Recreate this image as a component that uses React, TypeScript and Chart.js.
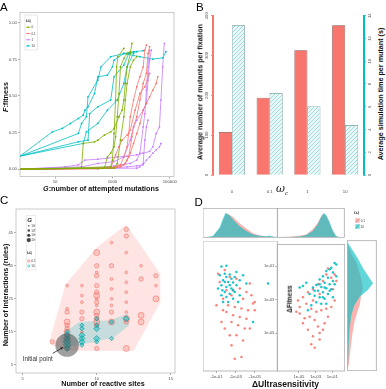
import React, { useEffect, useRef } from 'react';
import { Chart, registerables } from 'chart.js';

Chart.register(...registerables);

const RED = '#F8766D';
const OLIVE = '#7CAE00';
const TEAL = '#00BFC4';
const VIOLET = '#C77CFF';
const SANS = '"Liberation Sans", Arial, sans-serif';
const SERIF = '"DejaVu Serif", serif';

// ---------- A: fitness trajectories, [G attempted mutations, F fitness] ----------
type Pair = [number, number];
const omegaLevelsA = ['0', '0.1', '1', '10'];
const runsOmega0: Pair[][] = [
  [[0.6, 0], [84, 0.007], [96, 0.176], [238, 0.187], [309, 0.198], [525, 0.233], [870, 0.255], [1140, 0.278], [1690, 0.358], [2180, 0.403], [2500, 0.472], [2820, 0.585], [3240, 0.699], [4200, 0.79], [4780, 0.859]],
  [[0.6, 0], [525, 0.007], [670, 0.084], [870, 0.109], [1140, 0.153], [1290, 0.221], [1480, 0.358], [1690, 0.517], [1910, 0.699], [2500, 0.757], [3240, 0.79], [4200, 0.802]],
  [[0.6, 0], [870, 0.016], [1000, 0.062], [1140, 0.244], [1290, 0.472], [1400, 0.699], [1550, 0.768], [2500, 0.825]],
  [[0.6, 0], [1140, 0.007], [1480, 0.039], [1910, 0.198], [2500, 0.358], [2820, 0.472], [3240, 0.585], [4200, 0.699], [5450, 0.745], [7050, 0.768]],
];
const runsOmega01: Pair[][] = [
  [[0.6, 0], [309, 0.002], [1140, 0.016], [1910, 0.03], [2500, 0.084], [3240, 0.153], [3700, 0.244], [4200, 0.358], [5450, 0.472], [7050, 0.563], [9100, 0.631], [11800, 0.699], [13500, 0.813], [15300, 0.848]],
  [[0.6, 0], [670, 0.007], [1480, 0.016], [2500, 0.03], [3240, 0.062], [4200, 0.109], [5450, 0.176], [7050, 0.244], [9100, 0.312], [11800, 0.403], [15300, 0.449], [19800, 0.494], [25600, 0.54], [33600, 0.585], [38000, 0.631]],
  [[0.6, 0], [1140, 0.007], [1910, 0.016], [2820, 0.039], [3700, 0.084], [4780, 0.221], [5450, 0.289], [7050, 0.358], [9100, 0.472], [11800, 0.585], [15300, 0.654], [17400, 0.79], [19800, 0.836]],
  [[0.6, 0], [870, 0.007], [1290, 0.098], [1690, 0.153], [2180, 0.198], [3240, 0.233], [4200, 0.267], [6170, 0.403], [9100, 0.517], [13500, 0.563], [19800, 0.654]],
];
const runsOmega1: Pair[][] = [
  [[0.6, 0], [23, 0.016], [65, 0.03], [110, 0.062], [309, 0.068], [670, 0.075], [1480, 0.084], [3240, 0.089], [7050, 0.098], [11800, 0.109], [19800, 0.121], [25600, 0.153], [33600, 0.244], [43600, 0.289], [49000, 0.472], [56500, 0.699], [64400, 0.859]],
  [[0.6, 0], [84, 0.016], [309, 0.039], [1140, 0.052], [2500, 0.084], [4200, 0.198], [5450, 0.289], [7050, 0.335], [11800, 0.403], [15300, 0.449], [17400, 0.608], [19800, 0.745], [22700, 0.813]],
  [[0.6, 0], [182, 0.007], [670, 0.016], [1910, 0.03], [4200, 0.039], [7050, 0.062], [9100, 0.109], [11800, 0.289], [13500, 0.38], [15300, 0.54], [17400, 0.699], [19800, 0.813]],
  [[0.6, 0], [870, 0.007], [3240, 0.016], [7050, 0.023], [11800, 0.03], [15300, 0.062], [19800, 0.084], [25600, 0.109], [33600, 0.132], [43600, 0.153], [49000, 0.176]],
  [[0.6, 0], [7050, 0.007], [9100, 0.016], [11800, 0.039], [13500, 0.198], [15300, 0.289], [17400, 0.335]],
];
const runsOmega10: Pair[][] = [
  [[0.6, 0.089], [8.1, 0.255], [17.7, 0.278], [34, 0.312], [65, 0.346], [96, 0.369], [110, 0.403], [141, 0.426], [238, 0.517], [309, 0.631], [670, 0.642], [1000, 0.699], [1140, 0.745], [2500, 0.79], [9100, 0.768], [25600, 0.752], [56500, 0.76], [72900, 0.802]],
  [[0.6, 0.089], [65, 0.244], [84, 0.312], [124, 0.358], [141, 0.494], [309, 0.608], [400, 0.699], [870, 0.768], [2500, 0.79], [5450, 0.802], [11800, 0.809]],
  [[0.6, 0.089], [65, 0.187], [141, 0.198], [161, 0.38], [309, 0.426], [870, 0.472], [1140, 0.631], [2500, 0.711], [3700, 0.79], [7050, 0.802]],
  [[0.6, 0.089], [96, 0.176], [124, 0.255], [309, 0.312], [670, 0.403], [1480, 0.472], [2500, 0.585], [3240, 0.699], [5450, 0.79]],
];
const fitnessTicks = [0, 0.25, 0.5, 0.75, 1];
const mutationTicks = [10, 1000, 100000];

// ---------- B: cost per fixation ----------
const omegaCategories = ['0', '0.1', '1', '10'];
const mutantsPerFixation = [108, 194, 313, 376];
const secondsPerMutant = [13.15, 7.2, 6.05, 4.4];
const mutantTicks = [0, 100, 200, 300, 400];
const secondsTicks = [0, 2, 4, 6, 8, 10, 12, 14];

// ---------- C: network size, [reactive sites, interactions, log10 G] ----------
const networksOmega01: [number, number, number][] = [
  [7, 12, 2],
  [8, 29, 1], [8, 22, 1], [8, 21, 2], [8, 18, 3], [8, 17, 2], [8, 16, 2], [8, 15, 3], [8, 14, 2], [8, 13, 3], [8, 10, 2],
  [9, 29, 1], [9, 26, 1], [9, 24, 1], [9, 21, 2], [9, 19, 2], [9, 15, 1],
  [10, 39, 3], [10, 35, 2], [10, 33, 1], [10, 32, 2], [10, 29, 2], [10, 27, 2], [10, 26, 3], [10, 25, 1], [10, 24, 2], [10, 23, 1], [10, 21, 3], [10, 20, 2], [10, 19, 2], [10, 18, 3], [10, 17, 2], [10, 10, 2],
  [11, 42, 1], [11, 35, 2], [11, 31, 1], [11, 28, 1], [11, 25, 1], [11, 23, 1], [11, 21, 2], [11, 18, 3],
  [12, 46, 2], [12, 44, 2], [12, 39, 1], [12, 33, 1], [12, 30, 1], [12, 27, 1], [12, 24, 1], [12, 21, 1], [12, 19, 3], [12, 18, 2], [12, 10, 3],
  [13, 35, 1], [13, 31, 2], [13, 20, 3], [13, 18, 3],
  [14, 32, 2], [14, 29, 1], [14, 25, 3],
];
const networksOmega10: [number, number, number][] = [
  [8, 15, 2], [8, 14, 3], [8, 13, 3], [8, 12, 4], [8, 11, 4], [8, 10, 3],
  [9, 17, 2], [9, 16, 2], [9, 14, 3], [9, 13, 3], [9, 12, 3], [9, 11, 2],
  [10, 19, 2], [10, 17, 2], [10, 16, 3], [10, 13, 3], [10, 12, 2],
  [11, 18, 2], [11, 13, 2],
  [12, 19, 3],
];
const hullOmega01: Pair[] = [[6.8, 12], [7.9, 29.5], [10, 40.5], [12, 47.5], [14.3, 32.5], [14.3, 24], [12.5, 9.3], [8, 9.3], [7, 11], [6.8, 12]];
const hullOmega10: Pair[] = [[7.6, 14], [8.8, 18], [10.9, 18.5], [12.1, 20.5], [12.2, 17], [11.2, 13.5], [10, 12], [9, 11.3], [8, 10.3], [7.6, 12], [7.6, 14]];
const initialNetwork: Pair = [8, 11];
const gLevels = [1, 2, 3, 4];
const siteTicks = [5, 10, 15];
const ruleTicks = [5, 15, 25, 35, 45];

// ---------- D: [log10 |ΔUltrasensitivity|, log10 ΔFitness] ----------
const negUltraOmega10: Pair[] = [
  [-1.52, -1.17], [-2.04, -1.12], [-1.35, -1.68], [-1.87, -1.59], [-2.39, -1.64], [-2.91, -1.78], [-1.69, -1.98], [-2.22, -2.07], [-2.74, -2.11], [-3.43, -1.98], [-1.52, -2.27], [-2.04, -2.37], [-2.57, -2.46], [-3.09, -2.27], [-1.87, -2.66], [-2.39, -2.76], [-2.91, -2.66], [-3.78, -1.68], [-2.04, -2.95], [-2.74, -3.05], [-1.52, -2.85], [-3.43, -2.85], [-4.82, -4.41], [-2.22, -3.24], [-3.26, -3.24], [-6.39, -2.17], [-4.13, -2.17], [-1.69, -3.24], [-1.17, -2.46], [-2.57, -1.88], [-1.87, -2.07], [-2.39, -2.27], [-2.74, -2.56], [-3.09, -1.49], [-2.04, -1.78], [-1.62, -2.56],
];
const negUltraOmega01: Pair[] = [
  [-1.17, -1.59], [-1.87, -1.37], [-2.39, -1.78], [-3.09, -1.88], [-4.48, -2.17], [-1.35, -2.07], [-2.04, -2.56], [-2.74, -2.56], [-3.43, -2.46], [-4.13, -2.66], [-4.65, -2.85], [-5.0, -3.24], [-1.69, -3.05], [-2.22, -3.44], [-2.91, -3.54], [-3.61, -3.63], [-4.3, -3.73], [-5.0, -3.73], [-2.04, -3.83], [-2.74, -4.02], [-3.43, -4.12], [-4.13, -4.22], [-2.57, -4.41], [-3.26, -4.61], [-3.95, -4.8], [-1.87, -4.8], [-2.39, -5.19], [-3.09, -5.19], [-3.78, -5.49], [-2.57, -5.78], [-3.61, -6.46], [-2.91, -6.56], [-4.82, -3.34], [-1.69, -3.73], [-4.48, -4.8], [-1.0, -3.44], [-1.52, -4.41], [-3.78, -3.05], [-2.57, -2.85],
];
const posUltraOmega10: Pair[] = [
  [-0.72, -0.79], [-0.52, -0.89], [-1.12, -1.08], [-1.72, -1.27], [-0.92, -1.37], [-0.52, -1.59], [-2.12, -1.59], [-1.52, -1.68], [-2.52, -1.78], [-0.92, -1.88], [-1.92, -1.98], [-1.32, -2.07], [-2.92, -2.11], [-2.32, -2.23], [-1.72, -2.31], [-1.12, -2.37], [-3.32, -2.27], [-2.72, -2.46], [-2.12, -2.56], [-1.52, -2.66], [-3.72, -2.66], [-3.12, -2.76], [-2.52, -2.85], [-1.92, -2.95], [-2.92, -3.15], [-2.32, -3.24], [-3.52, -3.34], [-4.52, -2.17], [-4.92, -2.27], [-4.12, -1.98], [-0.92, -2.85], [-1.72, -3.24], [-3.92, -3.63], [-1.32, -1.17], [-0.72, -2.07], [-1.92, -2.27], [-1.32, -2.46], [-2.52, -2.07], [-3.12, -2.46], [-2.12, -2.85],
];
const posUltraOmega01: Pair[] = [
  [-1.52, -1.12], [-1.72, -1.49], [-1.12, -1.68], [-2.12, -1.88], [-2.72, -2.07], [-3.32, -2.37], [-3.92, -2.56], [-4.52, -2.85], [-4.92, -3.44], [-4.12, -3.24], [-3.52, -3.54], [-2.92, -3.73], [-2.32, -3.63], [-1.72, -3.54], [-1.12, -3.44], [-0.72, -3.05], [-3.72, -4.02], [-3.12, -4.22], [-4.32, -4.12], [-4.92, -3.83], [-5.32, -3.73], [-2.72, -4.61], [-2.12, -4.8], [-3.92, -4.8], [-3.32, -5.19], [-2.52, -5.0], [-3.52, -5.68], [-3.12, -5.88], [-1.92, -4.41], [-0.72, -1.49], [-0.52, -1.88], [-5.12, -3.05], [-3.32, -3.05], [-1.52, -4.02], [-2.52, -5.39], [-4.52, -4.41], [-0.92, -2.37], [-2.52, -2.66],
];
// marginal densities: [log10 value, scaled density]
const densNegUltraOmega10: Pair[] = [[0.1, 0], [-0.65, 0.05], [-1.35, 0.35], [-1.69, 0.65], [-1.94, 0.85], [-2.39, 0.75], [-2.91, 0.55], [-3.43, 0.38], [-4.13, 0.22], [-4.82, 0.1], [-5.52, 0.05], [-6.2, 0.04], [-6.56, 0.06], [-7.0, 0.02], [-7.3, 0]];
const densNegUltraOmega01: Pair[] = [[0.1, 0], [-0.65, 0.03], [-1.35, 0.3], [-1.6, 0.5], [-1.94, 0.78], [-2.15, 0.82], [-2.74, 0.7], [-3.43, 0.48], [-4.13, 0.3], [-4.82, 0.14], [-5.52, 0.06], [-6.2, 0.03], [-7.0, 0.01], [-7.3, 0]];
const densPosUltraOmega10: Pair[] = [[-7.5, 0], [-6.12, 0.01], [-4.92, 0.03], [-4.12, 0.08], [-3.32, 0.22], [-2.72, 0.45], [-2.32, 0.7], [-2.0, 0.84], [-1.72, 0.78], [-1.32, 0.55], [-0.92, 0.25], [-0.52, 0.05], [-0.12, 0]];
const densPosUltraOmega01: Pair[] = [[-7.5, 0], [-6.12, 0.02], [-4.92, 0.05], [-4.12, 0.1], [-3.32, 0.28], [-2.72, 0.5], [-2.32, 0.72], [-2.1, 0.8], [-1.72, 0.74], [-1.32, 0.5], [-0.92, 0.22], [-0.52, 0.04], [-0.12, 0]];
const densFitnessOmega10: Pair[] = [[0.26, 0], [-0.51, 0.29], [-0.89, 0.42], [-1.27, 0.54], [-1.88, 0.77], [-2.17, 0.89], [-2.56, 0.71], [-2.95, 0.43], [-3.44, 0.25], [-4.02, 0.14], [-4.8, 0.08], [-5.78, 0.05], [-6.76, 0.03], [-7.15, 0]];
const densFitnessOmega01: Pair[] = [[0.2, 0], [-0.5, 0.15], [-0.89, 0.3], [-1.88, 0.48], [-2.46, 0.54], [-2.85, 0.48], [-3.44, 0.43], [-3.83, 0.35], [-4.41, 0.25], [-5.19, 0.17], [-6.17, 0.1], [-6.95, 0.05], [-7.2, 0]];
const negUltraTicks = [-1, -3, -5];
const posUltraTicks = [-5, -3, -1];
const fitnessExpTicks = [-1, -3, -5];

// ---------- helpers ----------
const baseOptions = (padding: any) => ({
  responsive: false,
  maintainAspectRatio: false,
  animation: false as const,
  devicePixelRatio: 1,
  events: [] as any[],
  layout: { padding, autoPadding: false },
  plugins: { legend: { display: false }, tooltip: { enabled: false } },
});

type AxisSpec = {
  type?: string; min: number; max: number; ticks: number[]; fmt: (v: number) => string;
  thickness: number; vertical: boolean; size?: number; reverse?: boolean; position?: string; padding?: number;
};
const tickAxis = (o: AxisSpec) => ({
  type: o.type ?? 'linear',
  position: o.position,
  min: o.min,
  max: o.max,
  reverse: !!o.reverse,
  afterBuildTicks: (s: any) => { s.ticks = o.ticks.map((v) => ({ value: v })); },
  afterFit: (s: any) => { if (o.vertical) s.width = o.thickness; else s.height = o.thickness; },
  ticks: {
    callback: (v: any) => o.fmt(Number(v)),
    font: { family: SANS, size: o.size ?? 4.5 },
    color: '#4d4d4d',
    padding: o.padding ?? 1,
    autoSkip: false,
    maxRotation: 0,
  },
  grid: { display: true, drawOnChartArea: false, drawTicks: true, tickLength: 2, color: '#777', lineWidth: 0.6 },
  border: { display: false },
});
const hiddenAxis = (min: number, max: number, reverse = false) => ({ type: 'linear', display: false, min, max, reverse });

const framePlugin = (color: string, width = 0.7) => ({
  id: 'frame',
  afterDatasetsDraw(chart: any) {
    const { ctx, chartArea: a } = chart;
    ctx.save();
    ctx.strokeStyle = color;
    ctx.lineWidth = width;
    ctx.strokeRect(a.left, a.top, a.right - a.left, a.bottom - a.top);
    ctx.restore();
  },
});

const toXY = (pts: Pair[]) => pts.map(([x, y]) => ({ x, y }));
const toYX = (pts: Pair[]) => pts.map(([y, x]) => ({ x, y }));
const radiusForG = (g: number) => 0.6 + 0.8 * g;
const expLabel = (v: number) => `1e-0${Math.abs(v)}`;

function hatchPattern(): CanvasPattern | string {
  const c = document.createElement('canvas');
  c.width = 4; c.height = 4;
  const g = c.getContext('2d');
  if (!g) return '#e6f7f7';
  g.fillStyle = '#eaf8f8';
  g.fillRect(0, 0, 4, 4);
  g.strokeStyle = '#86d5d7';
  g.lineWidth = 0.8;
  g.beginPath();
  g.moveTo(0, 4); g.lineTo(4, 0);
  g.moveTo(-1, 1); g.lineTo(1, -1);
  g.moveTo(3, 5); g.lineTo(5, 3);
  g.stroke();
  return g.createPattern(c, 'repeat') ?? '#e6f7f7';
}

function drawOmegaTitle(ctx: CanvasRenderingContext2D, x: number, y: number, sub: string) {
  ctx.fillStyle = '#222';
  ctx.font = `italic 6px ${SERIF}`;
  ctx.fillText('ω', x, y);
  ctx.font = `3px ${SANS}`;
  ctx.fillText(sub, x + 4.2, y + 1.5);
}

// ---------- text overlays ----------
const HText = ({ x, y, size = 7.2, bold = true, children }: any) => (
  <div style={{ position: 'absolute', left: x, top: y, transform: 'translate(-50%, -50%)', whiteSpace: 'nowrap', fontSize: size, lineHeight: 1, fontWeight: bold ? 'bold' : 'normal', color: '#111' }}>{children}</div>
);
const VText = ({ x, y, size = 7.2, children }: any) => (
  <div style={{ position: 'absolute', left: x, top: y, transform: 'translate(-50%, -50%) rotate(-90deg)', whiteSpace: 'nowrap', fontSize: size, lineHeight: 1, fontWeight: 'bold', color: '#111' }}>{children}</div>
);

export default function App() {
  const aRef = useRef<HTMLCanvasElement>(null);
  const bRef = useRef<HTMLCanvasElement>(null);
  const cRef = useRef<HTMLCanvasElement>(null);
  const dTopLRef = useRef<HTMLCanvasElement>(null);
  const dTopRRef = useRef<HTMLCanvasElement>(null);
  const dMainLRef = useRef<HTMLCanvasElement>(null);
  const dMainRRef = useRef<HTMLCanvasElement>(null);
  const dSideRef = useRef<HTMLCanvasElement>(null);

  useEffect(() => {
    const charts: Chart[] = [];
    const make = (el: HTMLCanvasElement | null, cfg: any) => { if (el) charts.push(new Chart(el, cfg)); };

    // ----- A -----
    const groupsA = [
      { runs: runsOmega0, color: OLIVE },
      { runs: runsOmega01, color: RED },
      { runs: runsOmega1, color: VIOLET },
      { runs: runsOmega10, color: TEAL },
    ];
    const legendA = {
      id: 'legendA',
      afterDraw(chart: any) {
        const ctx: CanvasRenderingContext2D = chart.ctx;
        ctx.save();
        ctx.strokeStyle = '#d0d0d0';
        ctx.lineWidth = 0.5;
        ctx.strokeRect(25, 15, 12.3, 35);
        drawOmegaTitle(ctx, 25.8, 21.5, 'r');
        omegaLevelsA.forEach((lab, i) => {
          const y = 27.3 + i * 6.2;
          const col = groupsA[i].color;
          ctx.strokeStyle = col; ctx.lineWidth = 0.7;
          ctx.beginPath(); ctx.moveTo(26, y); ctx.lineTo(30.5, y); ctx.stroke();
          ctx.fillStyle = col; ctx.beginPath(); ctx.arc(28.2, y, 0.8, 0, Math.PI * 2); ctx.fill();
          ctx.fillStyle = '#333'; ctx.font = `3px ${SANS}`;
          ctx.fillText(lab, 31.5, y + 1.1);
        });
        ctx.restore();
      },
    };
    make(aRef.current, {
      type: 'line',
      data: {
        datasets: groupsA.flatMap((g) => g.runs.map((run) => ({
          data: toXY(run),
          borderColor: g.color,
          backgroundColor: g.color,
          borderWidth: 0.8,
          pointRadius: 0.9,
          pointBorderWidth: 0,
          pointBackgroundColor: g.color,
          fill: false,
          tension: 0,
        }))),
      },
      options: {
        ...baseOptions({ top: 12.5, right: 1, left: 0, bottom: 0 }),
        scales: {
          x: tickAxis({ type: 'logarithmic', min: 0.6, max: 1.4e5, ticks: mutationTicks, fmt: (v) => String(v), thickness: 18.5, vertical: false, size: 4.3 }),
          y: tickAxis({ min: -0.05, max: 1.07, ticks: fitnessTicks, fmt: (v) => v.toFixed(2), thickness: 20, vertical: true, size: 4.3 }),
        },
      },
      plugins: [framePlugin('#b5b5b5'), legendA],
    });

    // ----- B -----
    const vTicks = (spec: AxisSpec, color: string) => {
      const ax: any = tickAxis(spec);
      ax.ticks = { ...ax.ticks, minRotation: 90, maxRotation: 90, crossAlign: 'center' };
      ax.border = { display: true, color, width: 2 };
      return ax;
    };
    make(bRef.current, {
      type: 'bar',
      data: {
        labels: omegaCategories,
        datasets: [
          { data: mutantsPerFixation, yAxisID: 'y', backgroundColor: RED, borderColor: '#8a4a44', borderWidth: 0.7, barPercentage: 1, categoryPercentage: 0.69 },
          { data: secondsPerMutant, yAxisID: 'y1', backgroundColor: hatchPattern(), borderColor: '#5f8787', borderWidth: 0.7, barPercentage: 1, categoryPercentage: 0.69 },
        ],
      },
      options: {
        ...baseOptions({ top: 15.7, right: 0, left: 0, bottom: 0 }),
        scales: {
          x: {
            grid: { display: false },
            border: { display: false },
            ticks: { font: { family: SANS, size: 4.3 }, color: '#4d4d4d', padding: 6 },
            afterFit: (s: any) => { s.height = 20; },
          },
          y: vTicks({ min: 0, max: 400, ticks: mutantTicks, fmt: (v) => String(v), thickness: 20, vertical: true, position: 'left', size: 4.3 }, RED),
          y1: vTicks({ min: 0, max: 14, ticks: secondsTicks, fmt: (v) => String(v), thickness: 9, vertical: true, position: 'right', size: 4.3 }, TEAL),
        },
      },
    });

    // ----- C -----
    const legendC = {
      id: 'legendC',
      afterDraw(chart: any) {
        const ctx: CanvasRenderingContext2D = chart.ctx;
        ctx.save();
        ctx.strokeStyle = '#dadada';
        ctx.lineWidth = 0.5;
        ctx.strokeRect(26.3, 20.5, 9.5, 54.5);
        ctx.fillStyle = '#222';
        ctx.font = `italic bold 6px ${SANS}`;
        ctx.fillText('G', 27.2, 26.5);
        gLevels.forEach((g, i) => {
          const y = 30.7 + i * 4.8;
          ctx.fillStyle = '#444';
          ctx.beginPath(); ctx.arc(28.8, y, radiusForG(g) * 0.55, 0, Math.PI * 2); ctx.fill();
          ctx.fillStyle = '#333';
          ctx.font = `3px ${SANS}`; ctx.fillText('10', 31.3, y + 1);
          ctx.font = `2px ${SANS}`; ctx.fillText(String(g), 34.2, y - 0.2);
        });
        drawOmegaTitle(ctx, 26.8, 58.5, 'r');
        ctx.lineWidth = 0.5;
        ctx.strokeStyle = RED; ctx.fillStyle = 'rgba(248,118,109,0.3)';
        ctx.beginPath(); ctx.arc(28.8, 66, 1.3, 0, Math.PI * 2); ctx.fill(); ctx.stroke();
        ctx.strokeStyle = TEAL; ctx.fillStyle = 'rgba(0,191,196,0.3)';
        ctx.beginPath(); ctx.moveTo(28.8, 69.6); ctx.lineTo(30.2, 71); ctx.lineTo(28.8, 72.4); ctx.lineTo(27.4, 71); ctx.closePath(); ctx.fill(); ctx.stroke();
        ctx.fillStyle = '#333'; ctx.font = `3px ${SANS}`;
        ctx.fillText('0.1', 31.3, 67); ctx.fillText('10', 31.3, 72);

        // label for the starting network
        const xs = chart.scales.x, ys = chart.scales.y;
        const px = xs.getPixelForValue(initialNetwork[0]);
        const py = ys.getPixelForValue(initialNetwork[1]);
        ctx.fillStyle = '#333';
        ctx.font = `6.3px ${SANS}`;
        ctx.fillText('Initial point', 22.7, 166);
        const sx = 52.7, sy = 158.3;
        const ang = Math.atan2(py - sy, px - sx);
        const ex = px - Math.cos(ang) * 4.5, ey = py - Math.sin(ang) * 4.5;
        ctx.strokeStyle = '#222'; ctx.fillStyle = '#222'; ctx.lineWidth = 0.8;
        ctx.beginPath(); ctx.moveTo(sx, sy); ctx.lineTo(ex, ey); ctx.stroke();
        ctx.beginPath();
        ctx.moveTo(ex, ey);
        ctx.lineTo(ex - 3 * Math.cos(ang - 0.45), ey - 3 * Math.sin(ang - 0.45));
        ctx.lineTo(ex - 3 * Math.cos(ang + 0.45), ey - 3 * Math.sin(ang + 0.45));
        ctx.closePath(); ctx.fill();
        ctx.restore();
      },
    };
    make(cRef.current, {
      type: 'line',
      data: {
        datasets: [
          { data: toXY(hullOmega01), fill: 'shape', backgroundColor: 'rgba(248,118,109,0.2)', borderColor: 'transparent', pointRadius: 0, order: 5 },
          { data: toXY(hullOmega10), fill: 'shape', backgroundColor: 'rgba(0,191,196,0.22)', borderColor: 'transparent', pointRadius: 0, order: 4 },
          {
            data: networksOmega01.map(([x, y]) => ({ x, y })), showLine: false, order: 3,
            pointRadius: networksOmega01.map(([, , g]) => radiusForG(g)),
            pointBackgroundColor: 'rgba(248,118,109,0.28)', pointBorderColor: 'rgba(240,105,98,0.75)', pointBorderWidth: 0.7,
          },
          {
            data: networksOmega10.map(([x, y]) => ({ x, y })), showLine: false, order: 2, pointStyle: 'rectRot',
            pointRadius: networksOmega10.map(([, , g]) => radiusForG(g)),
            pointBackgroundColor: 'rgba(0,191,196,0.45)', pointBorderColor: 'rgba(0,150,155,0.9)', pointBorderWidth: 0.7,
          },
          {
            data: [{ x: initialNetwork[0], y: initialNetwork[1] }], showLine: false, order: 1,
            pointRadius: 11.7, pointBackgroundColor: 'rgba(80,80,80,0.55)', pointBorderWidth: 0,
          },
        ],
      },
      options: {
        ...baseOptions({ top: 14, right: 3, left: 0, bottom: 0 }),
        scales: {
          x: tickAxis({ min: 4.547, max: 15.29, ticks: siteTicks, fmt: (v) => String(v), thickness: 16, vertical: false, size: 4 }),
          y: tickAxis({ min: 2.58, max: 52.17, ticks: ruleTicks, fmt: (v) => String(v), thickness: 16, vertical: true, size: 4 }),
        },
      },
      plugins: [framePlugin('#b5b5b5'), legendC],
    });

    // ----- D -----
    const pinkFill = 'rgba(248,118,109,0.55)';
    const tealFill = 'rgba(0,191,196,0.62)';
    const density = (pts: any[], color: string, order: number) => ({
      data: pts, fill: 'shape', backgroundColor: color, borderColor: 'transparent', pointRadius: 0, order,
    });
    const dots = (pts: Pair[], color: string, order: number) => ({
      data: toXY(pts), showLine: false, pointRadius: 1.25, pointBackgroundColor: color, pointBorderWidth: 0, order,
    });
    const dFrame = framePlugin('#a9a9a9', 0.8);

    make(dTopLRef.current, {
      type: 'line',
      data: { datasets: [density(toXY(densNegUltraOmega01), pinkFill, 2), density(toXY(densNegUltraOmega10), tealFill, 1)] },
      options: { ...baseOptions({ top: 0.3, right: 0.7, left: 0, bottom: 0.7 }), scales: { x: hiddenAxis(-7.35, 0.4, true), y: hiddenAxis(0, 1) } },
      plugins: [dFrame],
    });
    make(dTopRRef.current, {
      type: 'line',
      data: { datasets: [density(toXY(densPosUltraOmega01), pinkFill, 2), density(toXY(densPosUltraOmega10), tealFill, 1)] },
      options: { ...baseOptions({ top: 0.3, right: 0.7, left: 0.3, bottom: 0.7 }), scales: { x: hiddenAxis(-7.6, 0.49), y: hiddenAxis(0, 1) } },
      plugins: [dFrame],
    });
    make(dMainLRef.current, {
      type: 'line',
      data: { datasets: [dots(negUltraOmega01, 'rgba(248,118,109,0.9)', 2), dots(negUltraOmega10, 'rgba(0,191,196,0.9)', 1)] },
      options: {
        ...baseOptions({ top: 0, right: 0.7, left: 0, bottom: 0 }),
        scales: {
          x: tickAxis({ min: -7.35, max: 0.4, reverse: true, ticks: negUltraTicks, fmt: (v) => '-' + expLabel(v), thickness: 12, vertical: false, size: 4.3 }),
          y: hiddenAxis(-7.28, 0.32),
        },
      },
      plugins: [dFrame],
    });
    make(dMainRRef.current, {
      type: 'line',
      data: { datasets: [dots(posUltraOmega01, 'rgba(248,118,109,0.9)', 2), dots(posUltraOmega10, 'rgba(0,191,196,0.9)', 1)] },
      options: {
        ...baseOptions({ top: 0, right: 0.3, left: 0, bottom: 0 }),
        scales: {
          x: tickAxis({ min: -7.6, max: 0.49, ticks: posUltraTicks, fmt: expLabel, thickness: 12, vertical: false, size: 4.3 }),
          y: tickAxis({ min: -7.28, max: 0.32, ticks: fitnessExpTicks, fmt: expLabel, thickness: 15.3, vertical: true, size: 4 }),
        },
      },
      plugins: [dFrame],
    });
    const legendD = {
      id: 'legendD',
      afterDraw(chart: any) {
        const ctx: CanvasRenderingContext2D = chart.ctx;
        ctx.save();
        drawOmegaTitle(ctx, 7, 8.5, 'r');
        const sw = (y: number, fillCol: string) => {
          ctx.fillStyle = fillCol; ctx.fillRect(8.3, y, 4.4, 4.4);
          ctx.strokeStyle = 'rgba(60,60,60,0.6)'; ctx.lineWidth = 0.4;
          ctx.beginPath(); ctx.moveTo(8.3, y + 4.4); ctx.lineTo(12.7, y); ctx.stroke();
        };
        sw(13.3, pinkFill);
        sw(19.3, tealFill);
        ctx.fillStyle = '#333'; ctx.font = `3px ${SANS}`;
        ctx.fillText('0.1', 13.7, 16.9);
        ctx.fillText('10', 13.7, 22.9);
        ctx.restore();
      },
    };
    make(dSideRef.current, {
      type: 'line',
      data: { datasets: [density(toYX(densFitnessOmega01), pinkFill, 2), density(toYX(densFitnessOmega10), tealFill, 1)] },
      options: { ...baseOptions({ top: 35.7, right: 0.7, left: 0.3, bottom: 0.3 }), scales: { x: hiddenAxis(0, 1), y: hiddenAxis(-7.28, 0.32) } },
      plugins: [dFrame, legendD],
    });

    return () => charts.forEach((c) => c.destroy());
  }, []);

  const cv = (ref: any, left: number, top: number, w: number, h: number) => (
    <canvas ref={ref} width={w} height={h} style={{ position: 'absolute', left, top, width: w, height: h }} />
  );

  return (
    <div style={{ position: 'absolute', left: 0, top: 0, width: 386, height: 389, background: '#fff', fontFamily: SANS, overflow: 'hidden' }}>
      {cv(aRef, 0, 0, 178, 195)}
      {cv(bRef, 193, 0, 180, 195)}
      {cv(cRef, 0, 195, 178, 194)}
      {cv(dTopLRef, 203, 208, 75, 30)}
      {cv(dTopRRef, 277, 208, 68, 30)}
      {cv(dMainLRef, 203, 241, 75, 142)}
      {cv(dMainRRef, 262, 241, 83, 142)}
      {cv(dSideRef, 347, 205, 30, 166)}

      <div style={{ position: 'absolute', left: 0, top: 1.8, fontSize: 11.5, lineHeight: 1 }}>A</div>
      <div style={{ position: 'absolute', left: 196, top: 1.8, fontSize: 11.5, lineHeight: 1 }}>B</div>
      <div style={{ position: 'absolute', left: 0, top: 195.2, fontSize: 11.5, lineHeight: 1 }}>C</div>
      <div style={{ position: 'absolute', left: 194.5, top: 196.8, fontSize: 11.5, lineHeight: 1 }}>D</div>

      <HText x={101} y={189.3}><i>G</i>:number of attempted mutations</HText>
      <VText x={6} y={96.7}><i>F</i>:fitness</VText>

      <VText x={200} y={92}>Average number of mutants per fixation</VText>
      <VText x={380.5} y={94}>Average simulation time per mutant (s)</VText>
      <div style={{ position: 'absolute', left: 276, top: 183, fontFamily: SERIF, fontStyle: 'italic', fontSize: 11, lineHeight: 1, color: '#222' }}>
        ω<span style={{ fontSize: 5.5, position: 'relative', top: 3 }}>c</span>
      </div>

      <VText x={5.5} y={294.5}>Number of interactions (rules)</VText>
      <HText x={103} y={383.5}>Number of reactive sites</HText>

      <HText x={285.5} y={384.3} size={8.5}>ΔUltrasensitivity</HText>
      <VText x={290} y={299} size={6.5}>ΔFitness</VText>
    </div>
  );
}
